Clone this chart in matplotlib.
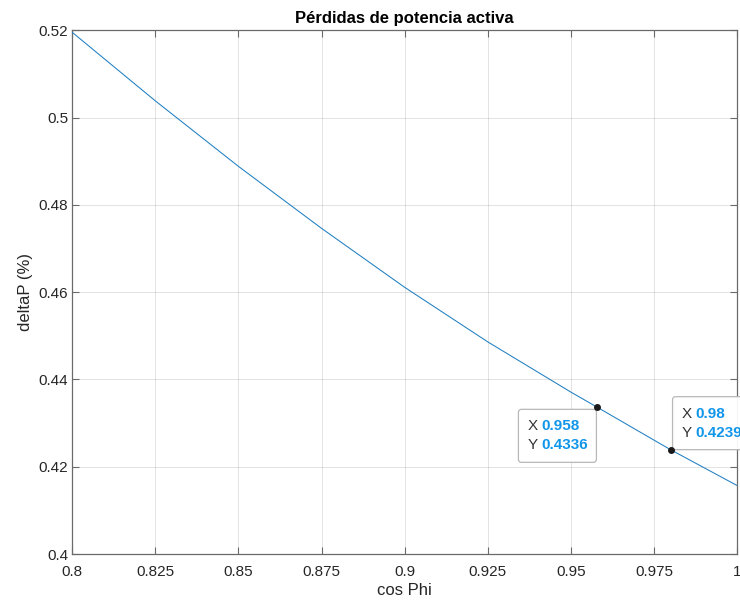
import matplotlib
matplotlib.use("Agg")
import matplotlib.pyplot as plt
import matplotlib.transforms as mtransforms
from matplotlib.patches import FancyBboxPatch

plt.rcParams['font.family'] = ['Liberation Sans', 'DejaVu Sans']

# Power factor vs. active power losses
cos_phi = [0.800, 0.825, 0.850, 0.875, 0.900, 0.925, 0.950, 0.958, 0.975, 0.980, 1.000]
delta_p = [0.5195, 0.5038, 0.4888, 0.4746, 0.4611, 0.4486, 0.4371, 0.4336, 0.4261, 0.4239, 0.4157]

# Data tips shown on the curve
tip_x = [0.958, 0.98]
tip_y = [0.4336, 0.4239]
tip_x_text = ["0.958", "0.98"]
tip_y_text = ["0.4336", "0.4239"]

x_ticks = [0.8, 0.825, 0.85, 0.875, 0.9, 0.925, 0.95, 0.975, 1.0]
x_tick_labels = ["0.8", "0.825", "0.85", "0.875", "0.9", "0.925", "0.95", "0.975", "1"]
y_ticks = [0.40, 0.42, 0.44, 0.46, 0.48, 0.50, 0.52]
y_tick_labels = ["0.4", "0.42", "0.44", "0.46", "0.48", "0.5", "0.52"]

txt = '#262626'
ax_col = '#6a6a6a'
blue_line = '#1f7fc0'
blue_val = '#1296EA'

fig = plt.figure(figsize=(7.4, 6.0), dpi=100)
ax = fig.add_axes([72.3 / 740, 1 - 554 / 600, (737 - 72.3) / 740, (554 - 30.2) / 600])

ax.plot(cos_phi, delta_p, color=blue_line, lw=0.75, zorder=3)

ax.set_xlim(0.8, 1.0)
ax.set_ylim(0.4, 0.52)
ax.set_xticks(x_ticks)
ax.set_xticklabels(x_tick_labels)
ax.set_yticks(y_ticks)
ax.set_yticklabels(y_tick_labels)

ax.grid(True, color='#262626', alpha=0.15, lw=0.6)
ax.set_axisbelow(True)
for s in ax.spines.values():
    s.set_color(ax_col)
    s.set_linewidth(0.9)
ax.tick_params(direction='in', length=5, width=0.8, color=ax_col,
               labelcolor=txt, labelsize=11, top=True, right=True)
ax.tick_params(axis='x', pad=8)
ax.tick_params(axis='y', pad=3)

ax.set_title("Pérdidas de potencia activa", fontsize=12, fontweight='bold',
             color='black', pad=5)
ax.set_xlabel("cos Phi", fontsize=12, color=txt, labelpad=3)
ax.set_ylabel("deltaP (%)", fontsize=12, color=txt, labelpad=4)

# Data tip boxes: (offset x, offset y, width, height) in pixels from the tip point
tip_boxes = [(-79, -55, 78, 53), (2, 0, 120, 53)]
for xd, yd, xs, ys, (bx, by, bw, bh) in zip(tip_x, tip_y, tip_x_text, tip_y_text, tip_boxes):
    anchor = mtransforms.ScaledTranslation(xd, yd, ax.transData)
    box = FancyBboxPatch((bx, by), bw, bh, boxstyle="round,pad=0,rounding_size=3",
                         transform=mtransforms.Affine2D() + anchor,
                         facecolor='white', edgecolor='#b4b4b4', lw=0.9,
                         alpha=0.95, zorder=5, clip_on=False)
    ax.add_artist(box)
    ax.plot([xd], [yd], 'o', ms=4, color='#1a1a1a', zorder=6, clip_on=False)
    lx = bx + 9
    for row, (lab, val) in enumerate([("X", xs), ("Y", ys)]):
        ly = by + bh - 17 - row * 19
        ax.annotate(lab, xy=(xd, yd), xytext=(lx, ly), textcoords='offset pixels',
                    fontsize=11, color='#333333', va='center', ha='left',
                    zorder=7, annotation_clip=False)
        ax.annotate(val, xy=(xd, yd), xytext=(lx + 14, ly), textcoords='offset pixels',
                    fontsize=11, color=blue_val, fontweight='bold', va='center',
                    ha='left', zorder=7, annotation_clip=False)

fig.savefig("out.png", dpi=100)
